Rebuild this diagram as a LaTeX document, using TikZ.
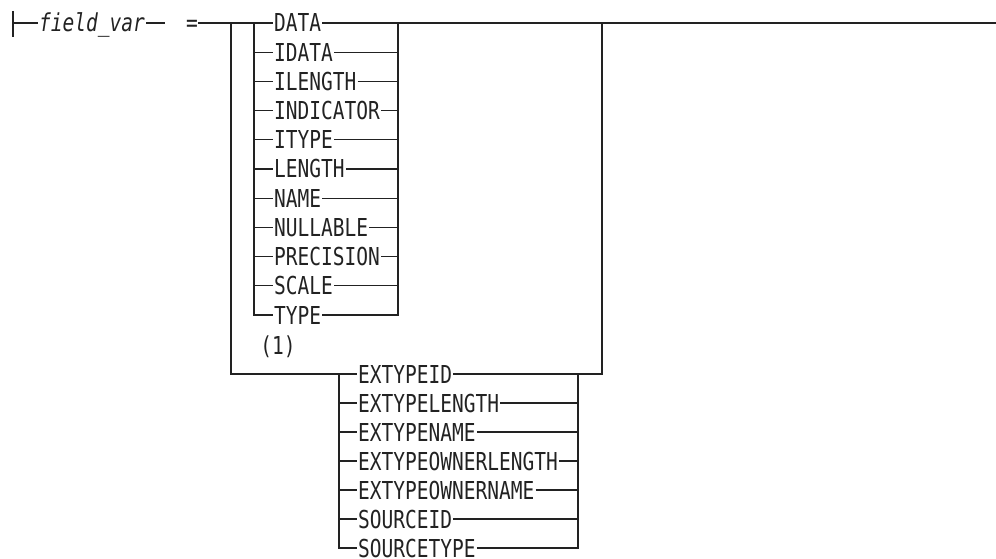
\documentclass[tikz,border=0pt]{standalone}
\usepackage{fontspec}
\setmonofont[FakeStretch=0.79]{DejaVu Sans Mono}
\usepackage{tikz}
\usetikzlibrary{calc}
\definecolor{encre}{HTML}{222222}
\newcommand{\police}{\ttfamily\fontsize{24.7}{26}\selectfont}
\tikzset{
  motcle/.style={font=\police,text=encre,inner xsep=1pt,inner ysep=0pt,
                 text height=18pt,text depth=0pt,anchor=west},
  trait/.style={draw=encre,line width=1.3pt},
}

\begin{document}
\begin{tikzpicture}[x=1pt,y=-1pt]
  \useasboundingbox (0,0) rectangle (996,559);
  % reperes des branches
  \coordinate (debut) at (13,23);
  \coordinate (tickh) at (13,11);
  \coordinate (tickb) at (13,37);
  \coordinate (trou) at (165,23);
  \coordinate (gE) at (231,23);
  \coordinate (dE) at (602,23);
  \coordinate (gI) at (254,23);
  \coordinate (dI) at (398,23);
  \coordinate (gB) at (339,374);
  \coordinate (dB) at (578,374);
  \coordinate (fin) at (996,23);
  \node[motcle,font=\police\itshape] (var) at (38,23) {field\_var};
  \node[motcle,anchor=center,inner xsep=0pt] (egal) at (192,23) {=};
  \foreach \mot [count=\i] in {DATA,IDATA,ILENGTH,INDICATOR,ITYPE,LENGTH,NAME,NULLABLE,PRECISION,SCALE,TYPE}
    \node[motcle] (k\i) at (273,{23+(\i-1)*29.2}) {\mot};
  \node[motcle,anchor=center] (note) at (278,345) {(1)};
  \foreach \mot [count=\i] in {EXTYPEID,EXTYPELENGTH,EXTYPENAME,EXTYPEOWNERLENGTH,EXTYPEOWNERNAME,SOURCEID,SOURCETYPE}
    \node[motcle] (e\i) at (357,{374+(\i-1)*29}) {\mot};
  % ligne principale
  \draw[trait] (tickh) -- (tickb);
  \draw[trait] (debut) -- (var.west);
  \draw[trait] (var.east) -- (trou);
  \draw[trait] (egal.east) -- (k1.west);
  \draw[trait] (k1.east) -- (fin);
  % premier choix
  \draw[trait] (gI) |- (k11.west);
  \draw[trait] (k11.east) -| (dI);
  \foreach \i in {2,...,10} \draw[trait] (gI |- k\i.west) -- (k\i.west) (k\i.east) -- (k\i.east -| dI);
  % second choix
  \draw[trait] (gE) |- (e1.west);
  \draw[trait] (e1.east) -| (dE);
  \draw[trait] (gB) |- (e7.west);
  \draw[trait] (e7.east) -| (dB);
  \foreach \i in {2,...,6} \draw[trait] (gB |- e\i.west) -- (e\i.west) (e\i.east) -- (e\i.east -| dB);
\end{tikzpicture}
\end{document}
